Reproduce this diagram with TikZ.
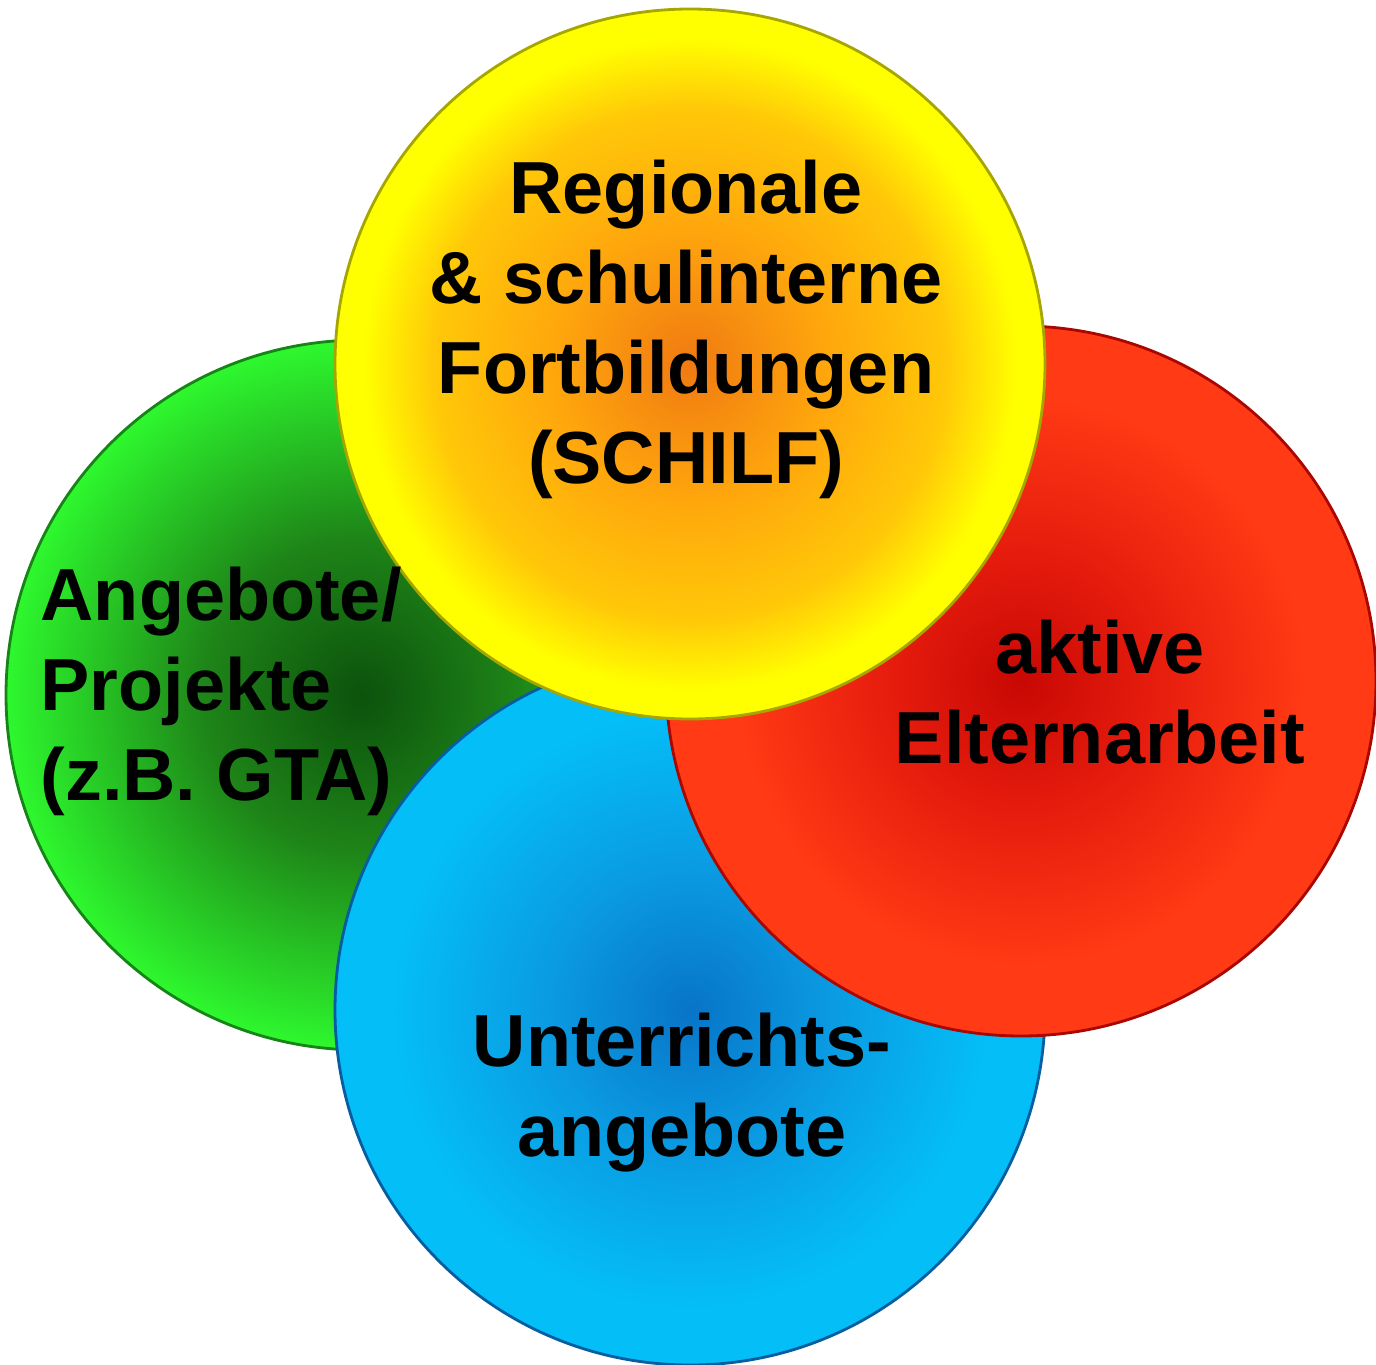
\documentclass[tikz,border=0pt]{standalone}
\usepackage{fontspec}
\setmainfont{Liberation Sans}
\usepackage{tikz}
\usetikzlibrary{positioning}

\definecolor{yelCore}{HTML}{F07A12}
\definecolor{yelMid}{HTML}{FFA80C}
\definecolor{yelGold}{HTML}{FFC808}
\definecolor{yelEdge}{HTML}{FFFF00}
\definecolor{grnCore}{HTML}{0C520C}
\definecolor{grnMid}{HTML}{1E8418}
\definecolor{grnEdge}{HTML}{2EF82E}
\definecolor{redCore}{HTML}{C80804}
\definecolor{redMid}{HTML}{E81E0E}
\definecolor{redEdge}{HTML}{FF3A14}
\definecolor{bluCore}{HTML}{0874C8}
\definecolor{bluMid}{HTML}{0A9BE2}
\definecolor{bluEdge}{HTML}{04BEF8}

% the disc edge sits at about 25bp of the shading
\pgfdeclareradialshading{yelball}{\pgfpoint{0bp}{0bp}}{%
    color(0bp)=(yelCore); color(10bp)=(yelMid); color(18bp)=(yelGold); color(23bp)=(yelEdge); color(50bp)=(yelEdge)}
\pgfdeclareradialshading{grnball}{\pgfpoint{0bp}{0bp}}{%
    color(0bp)=(grnCore); color(11bp)=(grnMid); color(18bp)=(grnMid!50!grnEdge); color(25bp)=(grnEdge); color(50bp)=(grnEdge)}
\pgfdeclareradialshading{redball}{\pgfpoint{0bp}{0bp}}{%
    color(0bp)=(redCore); color(10bp)=(redMid); color(20bp)=(redEdge); color(50bp)=(redEdge)}
\pgfdeclareradialshading{bluball}{\pgfpoint{0bp}{0bp}}{%
    color(0bp)=(bluCore); color(10bp)=(bluMid); color(21bp)=(bluEdge); color(50bp)=(bluEdge)}

\tikzset{
    ball/.style={circle, minimum size=7.1cm, inner sep=0pt, line width=0.8pt}, % the four discs
    balltext/.style={inner sep=0pt, font=\fontsize{21}{25.6}\selectfont\bfseries, text=black},
}

\begin{document}
\begin{tikzpicture}
        \useasboundingbox (0,0) rectangle (13.76,13.64);
        % Discs
        \node[ball, shading=grnball, draw=grnCore!70!grnEdge] (GTA) at (3.61,6.69) {};
        \node[ball, shading=bluball, draw=bluCore!80!black] (Unterricht) at (6.90,3.54) {};
        \node[ball, shading=redball, draw=redCore!85!black] (Eltern) at (10.21,6.83) {};
        \node[ball, shading=yelball, draw=yelEdge!65!black] (SCHILF) at (6.90,10.00) {};

        % Labels
        \node[balltext, align=center] (SCHILFtext) at ([xshift=-0.04cm, yshift=0.35cm]SCHILF)
            {Regionale\\\& schulinterne\\Fortbildungen\\(SCHILF)};
        \node[balltext, align=left, anchor=west] (GTAtext) at ([xshift=-3.21cm, yshift=0.04cm]GTA)
            {Angebote/\\Projekte\\(z.B. GTA)};
        \node[balltext, align=center] (Elterntext) at ([xshift=0.79cm, yshift=-0.11cm]Eltern)
            {aktive\\Elternarbeit};
        \node[balltext, align=center] (Unterrichttext) at ([xshift=-0.08cm, yshift=-0.83cm]Unterricht)
            {Unterrichts-\\angebote};
    \end{tikzpicture}
\end{document}
